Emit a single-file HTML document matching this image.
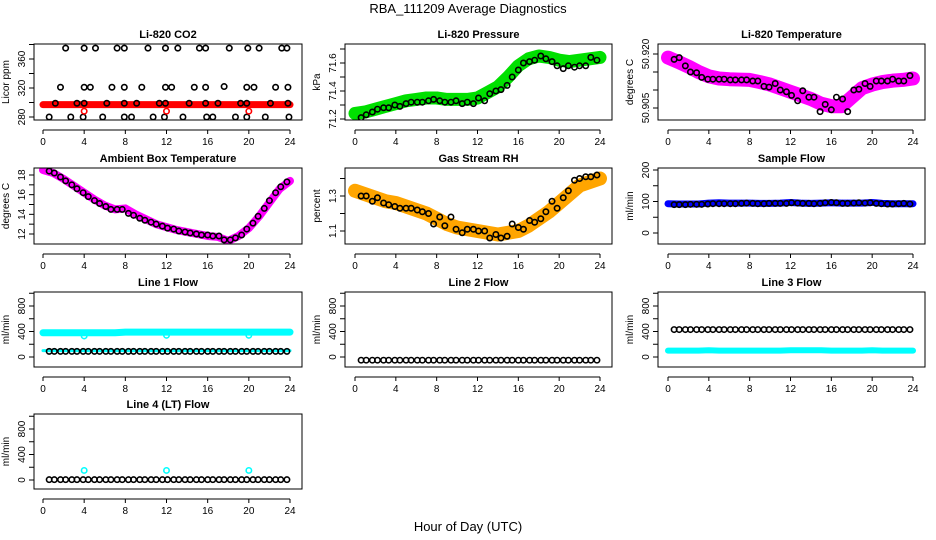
<!DOCTYPE html>
<html><head><meta charset="utf-8"><style>
body{margin:0;background:#fff;}
svg{display:block;font-family:"Liberation Sans",sans-serif;}
</style></head><body>
<svg id="c" width="936" height="540" viewBox="0 0 936 540">
<text x="468" y="13" text-anchor="middle" font-size="13">RBA_111209  Average Diagnostics</text>
<text x="468" y="531" text-anchor="middle" font-size="13">Hour of Day (UTC)</text>
</svg>
<script>
// shared time arrays
const bandHours=[0,1,2,3,4,5,6,7,8,9,10,11,12,13,14,15,16,17,18,19,20,21,22,23,24];
const blackHours=[0.6,1.1,1.7,2.2,2.8,3.3,3.9,4.4,5.0,5.5,6.1,6.6,7.2,7.7,8.3,8.8,9.4,9.9,10.5,11.0,11.6,12.1,12.7,13.2,13.8,14.3,14.9,15.4,16.0,16.5,17.1,17.6,18.2,18.7,19.3,19.8,20.4,20.9,21.5,22.0,22.6,23.1,23.7];
const xTicks=[0,4,8,12,16,20,24];
// CO2
const co2Band=[297,297,297,297,297,297,297,297,297,297,297,297,297,297,297,297,297,297,297,297,297,297,297,297,297];
const co2TopT=[2.2,4.0,5.1,7.2,7.9,10.2,11.9,13.1,15.2,15.8,18.1,19.9,21.0,23.2,23.7];
const co2TopV=[375,375,375,375,375,375,375,375,375,375,375,375,375,375,375];
const co2MidT=[1.7,4.0,4.6,6.7,7.9,9.6,11.9,12.5,14.7,15.8,17.6,19.8,20.5,22.6,23.8];
const co2MidV=[321,321,321,321,321,321,321,321,321,321,322,321,321,321,321];
const co2LowT=[1.2,3.3,4.0,6.2,7.9,9.1,11.3,11.9,14.2,15.8,17.0,19.2,19.8,22.1,23.8];
const co2LowV=[299,299,299,299,299,299,299,299,299,299,299,299,299,299,299];
const co2BotT=[0.6,2.7,3.9,5.8,7.9,8.6,10.7,11.8,13.6,15.9,16.5,18.7,19.8,21.6,23.9];
const co2BotV=[280,280,280,280,280,280,280,280,280,280,280,280,280,280,280];
const co2RedT=[4,12,20];
const co2RedV=[288,288,288];
// Pressure
const presBand=[71.24,71.25,71.27,71.29,71.31,71.33,71.34,71.35,71.35,71.34,71.34,71.34,71.35,71.39,71.43,71.5,71.58,71.63,71.65,71.64,71.62,71.61,71.62,71.63,71.64];
const presBlack=[71.21,71.23,71.25,71.27,71.28,71.28,71.30,71.29,71.31,71.32,71.32,71.32,71.33,71.34,71.33,71.32,71.32,71.33,71.31,71.32,71.31,71.35,71.33,71.38,71.40,71.41,71.44,71.50,71.55,71.60,71.61,71.62,71.65,71.63,71.61,71.58,71.56,71.58,71.57,71.58,71.58,71.64,71.62];
// Li-820 Temperature
const tempBand=[50.9190,50.9178,50.9165,50.9150,50.9138,50.9132,50.9130,50.9129,50.9128,50.9122,50.9115,50.9105,50.9095,50.9085,50.9075,50.9062,50.9055,50.9055,50.9080,50.9105,50.9115,50.9122,50.9126,50.9128,50.9132];
const tempBlack=[50.9185,50.9190,50.9167,50.9150,50.9148,50.9135,50.9130,50.9130,50.9130,50.9130,50.9128,50.9128,50.9128,50.9128,50.9125,50.9125,50.9110,50.9108,50.9118,50.9100,50.9095,50.9085,50.9070,50.9098,50.9080,50.9080,50.9040,50.9060,50.9045,50.9080,50.9075,50.9040,50.9100,50.9102,50.9118,50.9110,50.9125,50.9125,50.9125,50.9130,50.9125,50.9125,50.9140];
// Ambient
const ambBand=[18.5,18.2,17.6,16.9,16.2,15.5,14.9,14.5,14.6,14.0,13.5,13.0,12.7,12.4,12.2,12.0,11.8,11.7,11.3,11.8,12.6,13.8,15.2,16.6,17.4];
const ambBlack=[18.4,18.2,17.8,17.4,17.0,16.6,16.2,15.8,15.4,15.1,14.8,14.5,14.5,14.5,14.1,13.9,13.6,13.4,13.2,13.0,12.8,12.6,12.5,12.3,12.2,12.1,12.0,11.9,11.9,11.8,11.8,11.4,11.4,11.6,11.9,12.5,13.1,13.8,14.6,15.4,16.2,16.8,17.3];
// RH
const rhBand=[1.33,1.31,1.29,1.27,1.26,1.24,1.22,1.20,1.17,1.14,1.12,1.11,1.10,1.09,1.08,1.09,1.10,1.13,1.17,1.21,1.26,1.31,1.36,1.38,1.40];
const rhBlack=[1.30,1.30,1.27,1.29,1.26,1.25,1.24,1.23,1.23,1.23,1.22,1.21,1.20,1.14,1.18,1.13,1.18,1.11,1.09,1.11,1.11,1.10,1.10,1.06,1.08,1.06,1.07,1.14,1.12,1.11,1.16,1.15,1.17,1.21,1.27,1.23,1.29,1.33,1.39,1.40,1.41,1.41,1.42];
// Sample flow
const sampBand=[93,92,92,92,95,96,95,95,95,94,94,95,97,95,94,95,96,95,95,95,97,94,93,93,93];
const sampBlack=[90,90,90,91,91,91,92,93,93,93,93,93,94,95,94,93,93,94,94,94,94,96,95,94,94,93,94,96,97,96,94,94,95,96,95,96,94,93,92,92,93,94,92];
// Line 1
const l1Hi=[380,380,380,380,380,380,380,380,390,390,390,390,390,390,390,390,390,390,390,390,390,390,390,390,390];
const l1Lo=[100,100,100,100,100,100,100,100,100,100,100,100,100,100,100,100,100,100,100,100,100,100,100,100,100];
const l1Black=[88,88,88,88,88,88,88,88,88,88,88,88,88,88,88,88,88,88,88,88,88,88,88,88,88,88,88,88,88,88,88,88,88,88,88,88,88,88,88,88,88,88,88];
const l1CyanT=[4,12,20];
const l1CyanV=[330,340,340];
// Line 2
const l2Black=[-50,-50,-50,-50,-50,-50,-50,-50,-50,-50,-50,-50,-50,-50,-50,-50,-50,-50,-50,-50,-50,-50,-50,-50,-50,-50,-50,-50,-50,-50,-50,-50,-50,-50,-50,-50,-50,-50,-50,-50,-50,-50,-50];
// Line 3
const l3Lo=[100,100,100,100,105,100,100,100,100,100,100,100,105,105,105,105,100,100,100,100,105,100,100,100,100];
const l3Black=[430,430,430,430,430,430,430,430,430,430,430,430,430,430,430,430,430,430,430,430,430,430,430,430,430,430,430,430,430,430,430,430,430,430,430,430,430,430,430,430,430,430,430];
// Line 4
const l4Black=[5,5,5,5,5,5,5,5,5,5,5,5,5,5,5,5,5,5,5,5,5,5,5,5,5,5,5,5,5,5,5,5,5,5,5,5,5,5,5,5,5,5,5];
const l4CyanT=[4,12,20];
const l4CyanV=[150,150,150];

const NS='http://www.w3.org/2000/svg';
const svg=document.getElementById('c');
function mk(tag,attrs,parent){const e=document.createElementNS(NS,tag);for(const k in attrs)e.setAttribute(k,attrs[k]);(parent||svg).appendChild(e);return e;}

const cols=[{bx0:34,bx1:302,t0:43,t24:290},{bx0:345,bx1:612,t0:355,t24:600},{bx0:658,bx1:925,t0:668,t24:913}];
const rows=[{y0:44,y1:120},{y0:168,y1:244},{y0:292,y1:367},{y0:414,y1:489}];

function panel(opt){
  const c=cols[opt.col],r=rows[opt.row];
  const g=mk('g',{});
  
  
  const X=t=>c.t0+(t/24)*(c.t24-c.t0);
  const Y=v=>opt.p1+(v-opt.v1)*(opt.p2-opt.p1)/(opt.v2-opt.v1);
  const tt=mk('text',{x:(c.bx0+c.bx1)/2,y:r.y0-6,'text-anchor':'middle','font-size':11,'font-weight':'bold'},g);
  tt.textContent=opt.title;
  
  
  const clipId='clip'+opt.col+opt.row;
  const cp=mk('clipPath',{id:clipId},g);
  mk('rect',{x:c.bx0,y:r.y0,width:c.bx1-c.bx0,height:r.y1-r.y0},cp);
  const pg=mk('g',{'clip-path':'url(#'+clipId+')'},g);
  (opt.bands||[]).forEach(b=>{
    const pts=b.v.map((v,i)=>X(bandHours[i])+','+Y(v)).join(' ');
    const pl=mk('polyline',{points:pts,fill:'none',stroke:b.color,'stroke-width':b.w,'stroke-linejoin':'round','stroke-linecap':'round'},pg);
    
    
  });
  (opt.pts||[]).forEach(s=>{
    s.v.forEach((v,i)=>{
      const ci=mk('circle',{cx:X(s.t[i]),cy:Y(v),r:2.7,fill:'none',stroke:s.color,'stroke-width':1.6},pg);
      
      
    });
  });
  const box=mk('rect',{x:c.bx0,y:r.y0,width:c.bx1-c.bx0,height:r.y1-r.y0,fill:'none',stroke:'#000','stroke-width':1},g);
  
  
  const ay=r.y1+10;
  mk('line',{x1:X(0),x2:X(24),y1:ay,y2:ay,stroke:'#000'},g);
  xTicks.forEach(t=>{
    mk('line',{x1:X(t),x2:X(t),y1:ay,y2:ay+4,stroke:'#000'},g);
    const l=mk('text',{x:X(t),y:ay+15,'text-anchor':'middle','font-size':10},g);
    l.textContent=t;
    
    
  });
  opt.yTicks.forEach(v=>{
    mk('line',{x1:c.bx0-5,x2:c.bx0,y1:Y(v),y2:Y(v),stroke:'#000'},g);
  });
  opt.yLabels.forEach((s,i)=>{
    const v=opt.yLabelVals[i];
    const l=mk('text',{x:0,y:0,'text-anchor':'middle','font-size':10,transform:'translate('+(c.bx0-9)+','+Y(v)+') rotate(-90)'},g);
    l.textContent=s;
    
    
  });
  const yl=mk('text',{x:0,y:0,'text-anchor':'middle','font-size':10,transform:'translate('+(c.bx0-25)+','+((r.y0+r.y1)/2)+') rotate(-90)'},g);
  yl.textContent=opt.ylab;
  
  
}

panel({name:'co2-panel',col:0,row:0,title:'Li-820 CO2',ylab:'Licor ppm',v1:280,p1:117,v2:360,p2:59,
  yTicks:[280,300,320,340,360,380],yLabelVals:[280,320,360],yLabels:['280','320','360'],
  bands:[{v:co2Band,color:'#ff0000',w:7}],
  pts:[{t:co2TopT,v:co2TopV,color:'#000'},{t:co2MidT,v:co2MidV,color:'#000'},{t:co2LowT,v:co2LowV,color:'#000'},{t:co2BotT,v:co2BotV,color:'#000'},{t:co2RedT,v:co2RedV,color:'#ff0000'}]});
panel({name:'pressure-panel',col:1,row:0,title:'Li-820 Pressure',ylab:'kPa',v1:71.2,p1:119,v2:71.6,p2:63,
  yTicks:[71.2,71.3,71.4,71.5,71.6,71.7],yLabelVals:[71.2,71.4,71.6],yLabels:['71.2','71.4','71.6'],
  bands:[{v:presBand,color:'#00e000',w:13}],pts:[{t:blackHours,v:presBlack,color:'#000'}]});
panel({name:'li820-temperature-panel',col:2,row:0,title:'Li-820 Temperature',ylab:'degrees C',v1:50.905,p1:108,v2:50.920,p2:54,
  yTicks:[50.905,50.910,50.915,50.920],yLabelVals:[50.905,50.920],yLabels:['50.905','50.920'],
  bands:[{v:tempBand,color:'#ff00ff',w:14}],pts:[{t:blackHours,v:tempBlack,color:'#000'}]});
panel({name:'ambient-temperature-panel',col:0,row:1,title:'Ambient Box Temperature',ylab:'degrees C',v1:12,p1:234,v2:18,p2:175,
  yTicks:[12,13,14,15,16,17,18],yLabelVals:[12,14,16,18],yLabels:['12','14','16','18'],
  bands:[{v:ambBand,color:'#ff00ff',w:8}],pts:[{t:blackHours,v:ambBlack,color:'#000'}]});
panel({name:'rh-panel',col:1,row:1,title:'Gas Stream RH',ylab:'percent',v1:1.1,p1:231,v2:1.3,p2:196,
  yTicks:[1.1,1.2,1.3,1.4],yLabelVals:[1.1,1.3],yLabels:['1.1','1.3'],
  bands:[{v:rhBand,color:'#ffa500',w:14}],pts:[{t:blackHours,v:rhBlack,color:'#000'}]});
panel({name:'sample-flow-panel',col:2,row:1,title:'Sample Flow',ylab:'ml/min',v1:0,p1:233,v2:200,p2:170,
  yTicks:[0,50,100,150,200],yLabelVals:[0,100,200],yLabels:['0','100','200'],
  bands:[{v:sampBand,color:'#0000ff',w:7}],pts:[{t:blackHours,v:sampBlack,color:'#000'}]});
panel({name:'line1-flow-panel',col:0,row:2,title:'Line 1 Flow',ylab:'ml/min',v1:0,p1:357,v2:800,p2:306,
  yTicks:[0,200,400,600,800,1000],yLabelVals:[0,400,800],yLabels:['0','400','800'],
  bands:[{v:l1Hi,color:'#00ffff',w:7},{v:l1Lo,color:'#00ffff',w:3}],pts:[{t:blackHours,v:l1Black,color:'#000'},{t:l1CyanT,v:l1CyanV,color:'#00ffff'}]});
panel({name:'line2-flow-panel',col:1,row:2,title:'Line 2 Flow',ylab:'ml/min',v1:0,p1:357,v2:800,p2:306,
  yTicks:[0,200,400,600,800,1000],yLabelVals:[0,400,800],yLabels:['0','400','800'],
  bands:[],pts:[{t:blackHours,v:l2Black,color:'#000'}]});
panel({name:'line3-flow-panel',col:2,row:2,title:'Line 3 Flow',ylab:'ml/min',v1:0,p1:357,v2:800,p2:306,
  yTicks:[0,200,400,600,800,1000],yLabelVals:[0,400,800],yLabels:['0','400','800'],
  bands:[{v:l3Lo,color:'#00ffff',w:6}],pts:[{t:blackHours,v:l3Black,color:'#000'}]});
panel({name:'line4-flow-panel',col:0,row:3,title:'Line 4 (LT) Flow',ylab:'ml/min',v1:0,p1:480,v2:800,p2:429,
  yTicks:[0,200,400,600,800,1000],yLabelVals:[0,400,800],yLabels:['0','400','800'],
  bands:[],pts:[{t:blackHours,v:l4Black,color:'#000'},{t:l4CyanT,v:l4CyanV,color:'#00ffff'}]});
</script>
</body></html>
